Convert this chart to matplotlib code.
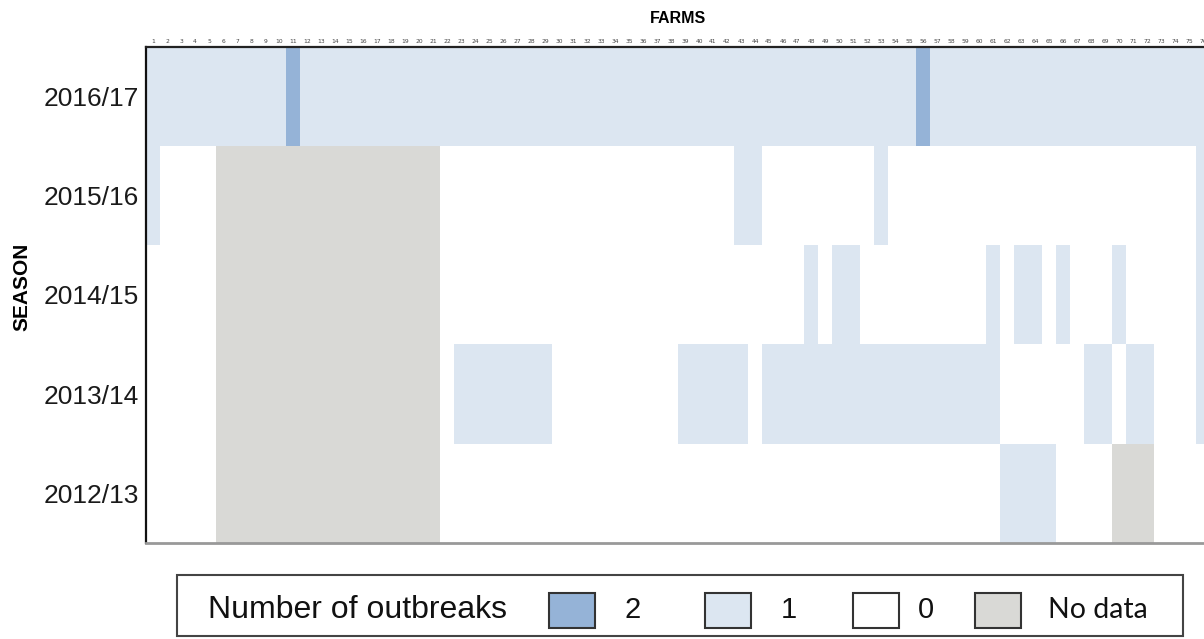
import numpy as np
import matplotlib
matplotlib.use('Agg')
import matplotlib.pyplot as plt
from matplotlib.colors import ListedColormap, BoundaryNorm
from matplotlib.patches import Rectangle

# Dados: número de surtos por fazenda e temporada (-1 = sem dados)
N = -1
farms = list(range(1, 77))
seasons = ['2016/17', '2015/16', '2014/15', '2013/14', '2012/13']

s2016_17 = [1, 1, 1, 1, 1, 1, 1, 1, 1, 1, 2, 1, 1, 1, 1, 1, 1, 1, 1, 1,
            1, 1, 1, 1, 1, 1, 1, 1, 1, 1, 1, 1, 1, 1, 1, 1, 1, 1, 1, 1,
            1, 1, 1, 1, 1, 1, 1, 1, 1, 1, 1, 1, 1, 1, 1, 2, 1, 1, 1, 1,
            1, 1, 1, 1, 1, 1, 1, 1, 1, 1, 1, 1, 1, 1, 1, 1]
s2015_16 = [1, 0, 0, 0, 0, N, N, N, N, N, N, N, N, N, N, N, N, N, N, N,
            N, 0, 0, 0, 0, 0, 0, 0, 0, 0, 0, 0, 0, 0, 0, 0, 0, 0, 0, 0,
            0, 0, 1, 1, 0, 0, 0, 0, 0, 0, 0, 0, 1, 0, 0, 0, 0, 0, 0, 0,
            0, 0, 0, 0, 0, 0, 0, 0, 0, 0, 0, 0, 0, 0, 0, 1]
s2014_15 = [0, 0, 0, 0, 0, N, N, N, N, N, N, N, N, N, N, N, N, N, N, N,
            N, 0, 0, 0, 0, 0, 0, 0, 0, 0, 0, 0, 0, 0, 0, 0, 0, 0, 0, 0,
            0, 0, 0, 0, 0, 0, 0, 1, 0, 1, 1, 0, 0, 0, 0, 0, 0, 0, 0, 0,
            1, 0, 1, 1, 0, 1, 0, 0, 0, 1, 0, 0, 0, 0, 0, 1]
s2013_14 = [0, 0, 0, 0, 0, N, N, N, N, N, N, N, N, N, N, N, N, N, N, N,
            N, 0, 1, 1, 1, 1, 1, 1, 1, 0, 0, 0, 0, 0, 0, 0, 0, 0, 1, 1,
            1, 1, 1, 0, 1, 1, 1, 1, 1, 1, 1, 1, 1, 1, 1, 1, 1, 1, 1, 1,
            1, 0, 0, 0, 0, 0, 0, 1, 1, 0, 1, 1, 0, 0, 0, 1]
s2012_13 = [0, 0, 0, 0, 0, N, N, N, N, N, N, N, N, N, N, N, N, N, N, N,
            N, 0, 0, 0, 0, 0, 0, 0, 0, 0, 0, 0, 0, 0, 0, 0, 0, 0, 0, 0,
            0, 0, 0, 0, 0, 0, 0, 0, 0, 0, 0, 0, 0, 0, 0, 0, 0, 0, 0, 0,
            0, 1, 1, 1, 1, 0, 0, 0, 0, N, N, N, 0, 0, 0, 0]

matriz = np.array([s2016_17, s2015_16, s2014_15, s2013_14, s2012_13])

legend_labels = ['2', '1', '0', 'No data']
legend_values = [2, 1, 0, N]

# Cores: sem dados, 0, 1, 2
cores = ['#d9d9d6', '#ffffff', '#dce6f1', '#95b3d7']
cmap = ListedColormap(cores)
norm = BoundaryNorm([-1.5, -0.5, 0.5, 1.5, 2.5], cmap.N)
cor_por_valor = {N: cores[0], 0: cores[1], 1: cores[2], 2: cores[3]}

W, H = 1204, 639
fig = plt.figure(figsize=(W / 100, H / 100), dpi=100)


def px(x, y):
    return x / W, 1 - y / H


# Eixo com 76 colunas de 14 px, parte direita sai da figura
left, top, bottom = 146, 47, 543
col_w = 14.0
ax = fig.add_axes([left / W, 1 - bottom / H, len(farms) * col_w / W, (bottom - top) / H])

ax.imshow(matriz, cmap=cmap, norm=norm, aspect='auto', interpolation='nearest',
          extent=(0.5, len(farms) + 0.5, len(seasons) - 0.5, -0.5))

ax.set_xticks(farms)
ax.set_xticklabels([str(f) for f in farms], fontsize=4.3, color='#444444')
ax.xaxis.tick_top()
ax.tick_params(axis='x', length=0, pad=2)
ax.set_yticks(range(len(seasons)))
ax.set_yticklabels(seasons, fontsize=19, family='Liberation Sans', color='#1a1a1a')
ax.tick_params(axis='y', length=0, pad=5)

ax.xaxis.set_label_position('top')
ax.set_xlabel('FARMS', fontsize=11.5, fontweight='bold', family='Liberation Sans', labelpad=12)
ax.set_ylabel('SEASON', fontsize=15, fontweight='bold', family='Liberation Sans')
ax.yaxis.set_label_coords(-0.108, 0.516)

ax.spines['right'].set_visible(False)
ax.spines['left'].set_color('#111111')
ax.spines['left'].set_linewidth(1.6)
ax.spines['top'].set_color('#222222')
ax.spines['top'].set_linewidth(1.6)
ax.spines['bottom'].set_color('#999999')
ax.spines['bottom'].set_linewidth(2)

# Legenda desenhada à mão numa caixa
x0, y0 = px(177, 636)
x1, y1 = px(1183, 575)
fig.add_artist(Rectangle((x0, y0), x1 - x0, y1 - y0, transform=fig.transFigure,
                         facecolor='white', edgecolor='#444444', linewidth=1.5))

tx, ty = px(208, 610)
fig.text(tx, ty, 'Number of outbreaks', fontsize=23, family='Liberation Sans',
         va='center', ha='left', color='#111111')

patch_x = [549, 705, 853, 975]
label_x = [625, 781, 918, 1048]
for val, lab, pxl, lx in zip(legend_values, legend_labels, patch_x, label_x):
    a, b = px(pxl, 628)
    c, d = px(pxl + 46, 593)
    fig.add_artist(Rectangle((a, b), c - a, d - b, transform=fig.transFigure,
                             facecolor=cor_por_valor[val], edgecolor='#333333', linewidth=1.5))
    fam = 'Lato' if lab == 'No data' else 'Liberation Sans'
    fs = 20.5 if lab == 'No data' else 21
    lxf, lyf = px(lx, 610)
    fig.text(lxf, lyf, lab, fontsize=fs, family=fam, va='center', ha='left', color='#111111')

fig.savefig('out.png', dpi=100)
